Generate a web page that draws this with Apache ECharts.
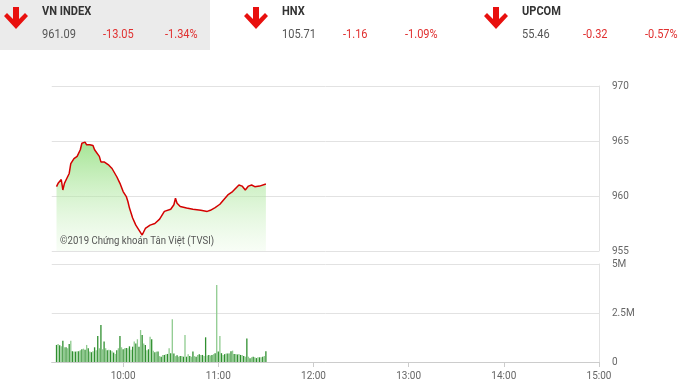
<!DOCTYPE html>
<html>
<head>
<meta charset="utf-8">
<script src="https://cdn.jsdelivr.net/npm/echarts@6/dist/echarts.min.js"></script>
<style>
html,body{margin:0;padding:0;background:#fff;}
#chart{width:689px;height:391px;}
</style>
</head>
<body>
<div id="chart"></div>
<script>
// ---- header data ----
const indexNames = ['VN INDEX', 'HNX', 'UPCOM'];
const indexValues = ['961.09', '105.71', '55.46'];
const indexChanges = ['-13.05', '-1.16', '-0.32'];
const indexPcts = ['-1.34%', '-1.09%', '-0.57%'];

// ---- price line (time, value) ----
const priceTimes = ['09:18','09:19','09:20','09:21','09:22','09:23','09:24','09:26','09:27','09:28','09:29','09:31','09:33','09:34','09:36','09:37','09:39','09:41','09:42','09:45','09:46','09:48','09:51','09:53','09:54','09:56','09:58','10:00','10:02','10:03','10:04','10:06','10:08','10:10','10:12','10:13','10:14','10:15','10:17','10:20','10:23','10:26','10:30','10:32','10:33','10:34','10:36','10:40','10:44','10:49','10:53','10:55','10:58','11:01','11:03','11:06','11:09','11:13','11:15','11:17','11:19','11:21','11:23','11:26','11:30'];
const priceValues = [960.85,961.15,961.0,961.5,960.55,961.15,961.45,962.05,962.95,962.8,963.4,963.6,964.2,964.8,964.9,964.65,964.65,964.6,964.2,963.6,963.1,963.1,962.8,962.5,962.35,961.75,961.15,960.4,959.95,959.5,958.9,958.0,957.35,956.9,956.45,956.3,957.05,956.9,957.35,957.5,957.9,958.6,958.8,959.2,959.8,959.35,959.05,958.9,958.8,958.7,958.6,958.7,958.95,959.25,959.6,960.1,960.4,961.0,960.9,960.55,960.9,961.0,960.85,960.9,961.09];

// ---- volume, one bar per minute from volStart ----
const volStart = '09:18';
const volumeM = [0.87,0.92,0.85,0.8,1.09,0.75,0.75,0.7,0.92,1.09,0.55,0.53,0.53,0.55,0.55,0.6,0.65,0.68,0.62,0.87,0.7,0.53,0.5,0.55,0.75,0.6,1.33,0.7,1.89,0.65,1.04,0.7,0.6,0.62,0.6,0.55,0.48,0.41,0.6,0.7,1.33,0.75,0.65,0.7,0.72,0.7,0.8,0.62,0.78,1.04,0.95,1.16,0.78,1.63,1.38,0.95,0.87,0.6,0.65,1.29,1.16,0.58,0.5,0.53,0.53,0.3,0.27,0.36,0.36,0.4,0.41,0.7,0.45,2.18,0.44,0.3,0.35,0.27,0.3,0.3,0.27,1.38,0.27,0.4,0.3,0.27,0.53,0.3,0.27,0.36,0.4,0.36,0.36,0.3,1.26,0.33,0.36,0.33,0.36,0.4,0.45,3.93,0.53,1.33,0.45,0.36,0.4,0.44,0.44,0.44,0.55,0.58,0.41,0.41,0.38,0.41,0.36,0.36,0.3,0.27,1.2,0.27,0.19,0.24,0.27,0.24,0.2,0.24,0.24,0.24,0.27,0.3,0.55];

// ---- axes ----
const timeMin = '09:15', timeMax = '15:00';
const timeTicks = ['10:00','11:00','12:00','13:00','14:00','15:00'];
const priceMin = 955, priceMax = 970, priceStep = 5;
const volMax = 5e6, volStep = 2.5e6;
const watermark = '©2019 Chứng khoán Tân Việt (TVSI)';

function toMin(s){ const p = s.split(':'); return (+p[0])*60 + (+p[1]); }
function fmtMin(m){ const h = Math.floor(m/60), mm = Math.round(m%60); return (h<10?'0':'')+h+':'+(mm<10?'0':'')+mm; }

const lineData = priceTimes.map((t,i)=>[toMin(t), priceValues[i]]);
const vs = toMin(volStart);
const barData = volumeM.map((v,i)=>({value:[vs+i, v*1e6], itemStyle:{color: i%2===0 ? '#2f8f2f' : '#8fcb8f'}}));

const FONT = 'Roboto, "Liberation Sans", sans-serif';
const LBL = '#666';
const GRID = '#e2e2e2';

// header graphics
const graphics = [{type:'rect', shape:{x:0,y:0,width:210,height:50}, style:{fill:'#ebebeb'}, z:0}];
const blockX = [0, 240, 480];
function arrow(cx){
  return {type:'polygon', shape:{points:[[cx-3,7],[cx+3,7],[cx+3,19],[cx+9,13],[cx+12,16],[cx,29],[cx-12,16],[cx-9,13],[cx-3,19]]}, style:{fill:'#e8100e'}};
}
indexNames.forEach((n,i)=>{
  const bx = blockX[i];
  graphics.push(arrow(bx+16));
  graphics.push({type:'text', x:bx+42, y:12, scaleX:0.92, style:{text:n, font:'bold 12px '+FONT, fill:'#333', verticalAlign:'middle'}});
  graphics.push({type:'text', x:bx+42, y:35, scaleX:0.92, style:{text:indexValues[i], font:'12px '+FONT, fill:'#555', verticalAlign:'middle'}});
  graphics.push({type:'text', x:bx+103, y:35, scaleX:0.92, style:{text:indexChanges[i], font:'12px '+FONT, fill:'#e03030', verticalAlign:'middle'}});
  graphics.push({type:'text', x:bx+165, y:35, scaleX:0.92, style:{text:indexPcts[i], font:'12px '+FONT, fill:'#e03030', verticalAlign:'middle'}});
});
graphics.push({type:'text', x:60, y:241, z:10, scaleX:0.87, style:{text:watermark, font:'11px '+FONT, fill:'#555', verticalAlign:'middle'}});

const chart = echarts.init(document.getElementById('chart'), null, {renderer:'canvas'});
chart.setOption({
  animation:false,
  backgroundColor:'#fff',
  graphic: graphics,
  grid:[
    {left:51.75, right:90, top:86, bottom:140},
    {left:51.75, right:90, top:264, bottom:29}
  ],
  xAxis:[
    {gridIndex:0, type:'value', min:toMin(timeMin), max:toMin(timeMax), show:false, splitLine:{show:false}},
    {gridIndex:1, type:'value', min:toMin(timeMin), max:toMin(timeMax),
      axisLine:{show:true, lineStyle:{color:'#ccc'}},
      axisTick:{show:true, customValues: timeTicks.map(toMin), length:5, lineStyle:{color:'#ccc'}},
      axisLabel:{customValues: timeTicks.map(toMin), formatter:(v)=>fmtMin(v), color:LBL, fontSize:10, fontFamily:FONT, margin:9},
      splitLine:{show:false}}
  ],
  yAxis:[
    {gridIndex:0, type:'value', position:'right', min:priceMin, max:priceMax, interval:priceStep,
      axisLine:{show:true, lineStyle:{color:GRID}}, axisTick:{show:false},
      axisLabel:{color:LBL, fontSize:10, fontFamily:FONT, margin:13},
      splitLine:{show:true, lineStyle:{color:GRID}}},
    {gridIndex:1, type:'value', position:'right', min:0, max:volMax, interval:volStep,
      axisLine:{show:true, lineStyle:{color:GRID}}, axisTick:{show:false},
      axisLabel:{color:LBL, fontSize:10, fontFamily:FONT, margin:13, formatter:(v)=> v===0 ? '0' : (v/1e6)+'M'},
      splitLine:{show:true, lineStyle:{color:GRID}}}
  ],
  series:[
    {type:'line', xAxisIndex:0, yAxisIndex:0, data:lineData, symbol:'none', smooth:false,
      lineStyle:{color:'#d40000', width:1.5},
      areaStyle:{origin:'start', color:new echarts.graphic.LinearGradient(0,0,0,1,[
        {offset:0, color:'rgba(120,215,95,0.95)'},
        {offset:1, color:'rgba(235,250,230,0.5)'}])}},
    {type:'bar', xAxisIndex:1, yAxisIndex:1, data:barData, barWidth:1.3}
  ]
});
</script>
</body>
</html>
